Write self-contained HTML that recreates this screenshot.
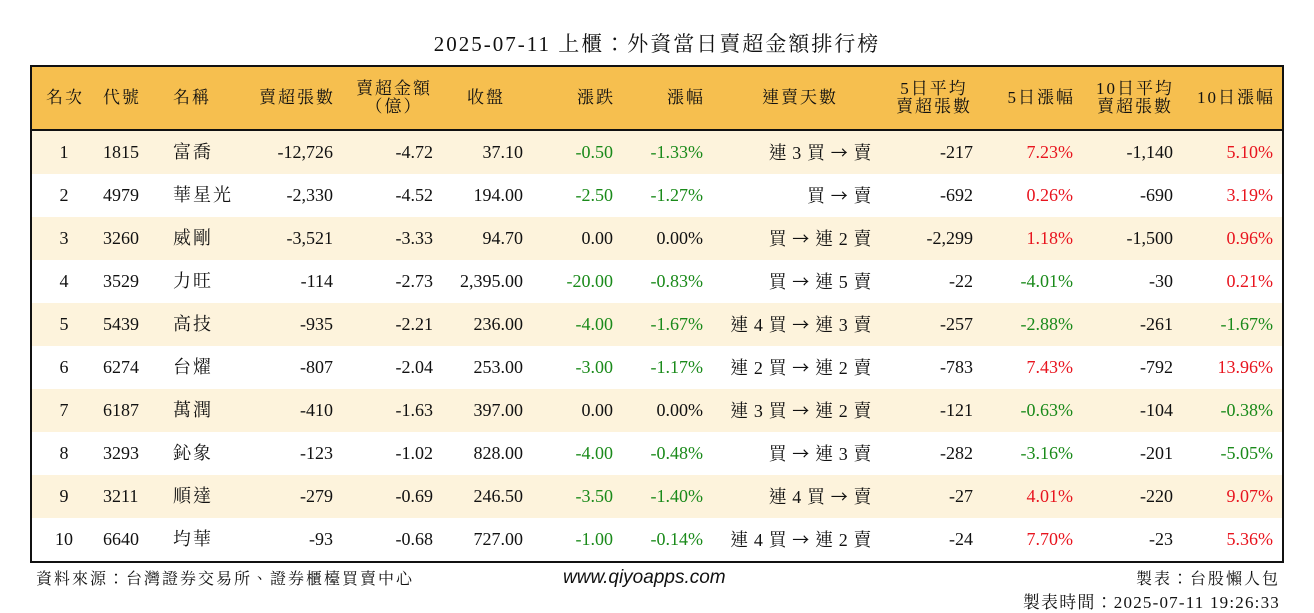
<!DOCTYPE html>
<html><head><meta charset="utf-8">
<style>
body{margin:0;width:1314px;height:612px;background:#fff;position:relative;overflow:hidden;font-family:"Liberation Serif","Noto Serif CJK TC","Noto Serif CJK SC",serif;color:#111}
.a{position:absolute;white-space:nowrap}
#title{left:0;width:1314px;top:28px;text-align:center;font-size:21px;letter-spacing:2px}
#box{left:30px;top:65px;width:1250px;height:494px;border:2px solid #111}
.hdr{position:absolute;left:0;top:0;width:1250px;height:62px;background:#f6bf4f;border-bottom:2px solid #111}
.row{position:absolute;left:0;width:1250px;height:43px}
.c{position:absolute;font-size:18px;line-height:20px;white-space:nowrap}
.h{font-size:17px;line-height:18px;text-align:center;letter-spacing:2px}
.cj{letter-spacing:2px}
.st{letter-spacing:0.6px}
.g{color:#1a8a1a}.r{color:#e8141e}
.foot{font-size:16px;letter-spacing:2px;font-family:"Liberation Serif","Noto Serif CJK TC",serif}
.ar{font-family:"Noto Sans CJK TC",sans-serif;font-size:17px}
</style></head><body>
<div id="title" class="a">2025-07-11 上櫃：外資當日賣超金額排行榜</div>
<div id="box" class="a">
<div class="hdr"></div>
</div>
<div class="a foot" style="left:36px;top:566px">資料來源：台灣證券交易所、證券櫃檯買賣中心</div>
<div class="a" style="left:563px;top:567px;font-size:19px;font-style:italic;font-family:'Liberation Sans',sans-serif">www.qiyoapps.com</div>
<div class="a foot" style="right:34px;top:566px">製表：台股懶人包</div>
<div class="a foot" style="right:34px;top:588px;font-size:17px;letter-spacing:1.2px">製表時間：2025-07-11 19:26:33</div>
<script>
const codes=["1815","4979","3260","3529","5439","6274","6187","3293","3211","6640"];
const names=["富喬","華星光","威剛","力旺","高技","台燿","萬潤","鈊象","順達","均華"];
const sellLots=[-12726,-2330,-3521,-114,-935,-807,-410,-123,-279,-93];
const sellAmt=[-4.72,-4.52,-3.33,-2.73,-2.21,-2.04,-1.63,-1.02,-0.69,-0.68];
const closes=[37.10,194.00,94.70,2395.00,236.00,253.00,397.00,828.00,246.50,727.00];
const changes=[-0.50,-2.50,0.00,-20.00,-4.00,-3.00,0.00,-4.00,-3.50,-1.00];
const pcts=[-1.33,-1.27,0.00,-0.83,-1.67,-1.17,0.00,-0.48,-1.40,-0.14];
const streaks=["連 3 買 → 賣","買 → 賣","買 → 連 2 賣","買 → 連 5 賣","連 4 買 → 連 3 賣","連 2 買 → 連 2 賣","連 3 買 → 連 2 賣","買 → 連 3 賣","連 4 買 → 賣","連 4 買 → 連 2 賣"];
const avg5=[-217,-692,-2299,-22,-257,-783,-121,-282,-27,-24];
const pct5=[7.23,0.26,1.18,-4.01,-2.88,7.43,-0.63,-3.16,4.01,7.70];
const avg10=[-1140,-690,-1500,-30,-261,-792,-104,-201,-220,-23];
const pct10=[5.10,3.19,0.96,0.21,-1.67,13.96,-0.38,-5.05,9.07,5.36];

const box=document.getElementById('box');
const hdr=box.querySelector('.hdr');
function fmtInt(v){return v.toLocaleString('en-US');}
function fmt2(v){return v.toLocaleString('en-US',{minimumFractionDigits:2,maximumFractionDigits:2});}
function cls(v){return v>0?'r':(v<0?'g':'');}
function cell(parent,text,x,align,extra){
  const d=document.createElement('div');
  d.className='c '+(extra||'');
  d.textContent=text;
  if(align==='r'){d.style.right=(1250-x)+'px';}
  else if(align==='c'){d.style.left=(x-60)+'px';d.style.width='120px';d.style.textAlign='center';}
  else d.style.left=x+'px';
  parent.appendChild(d);
  return d;
}
const heads=[["名次",33,'c'],["代號",71,'l'],["名稱",141,'l'],["賣超張數",303,'r'],["賣超金額\n（億）",362,'c'],["收盤",473,'r'],["漲跌",583,'r'],["漲幅",673,'r'],["連賣天數",768,'c'],["5日平均\n賣超張數",902,'c'],["5日漲幅",1043,'r'],["10日平均\n賣超張數",1103,'c'],["10日漲幅",1243,'r']];
heads.forEach(h=>{
  const d=cell(hdr,'',h[1],h[2],'h');
  d.innerHTML=h[0].replace('\n','<br>');
  const two=h[0].includes('\n');
  d.style.top=(two?13:22)+'px';
  
  
});
for(let i=0;i<codes.length;i++){
  const r=document.createElement('div');
  r.className='row';
  r.style.top=(64+i*43)+'px';
  r.style.background=i%2===0?'#fdf3dc':'#ffffff';
  
  
  box.appendChild(r);
  const vals=[
    [String(i+1),32,'c',''],[codes[i],71,'l',''],[names[i],141,'l','cj'],
    [fmtInt(sellLots[i]),301,'r',''],[fmt2(sellAmt[i]),401,'r',''],[fmt2(closes[i]),491,'r',''],
    [fmt2(changes[i]),581,'r',cls(changes[i])],[fmt2(pcts[i])+'%',671,'r',cls(pcts[i])],
    [streaks[i],840,'r','st'],[fmtInt(avg5[i]),941,'r',''],[fmt2(pct5[i])+'%',1041,'r',cls(pct5[i])],
    [fmtInt(avg10[i]),1141,'r',''],[fmt2(pct10[i])+'%',1241,'r',cls(pct10[i])]
  ];
  vals.forEach((v,k)=>{
    const d=cell(r,v[0],v[1],v[2],v[3]);
    if(k===8){d.innerHTML=v[0].replace('→','<span class="ar">→</span>');}
    d.style.top='11px';
    
    
  });
}
</script>
</body></html>
